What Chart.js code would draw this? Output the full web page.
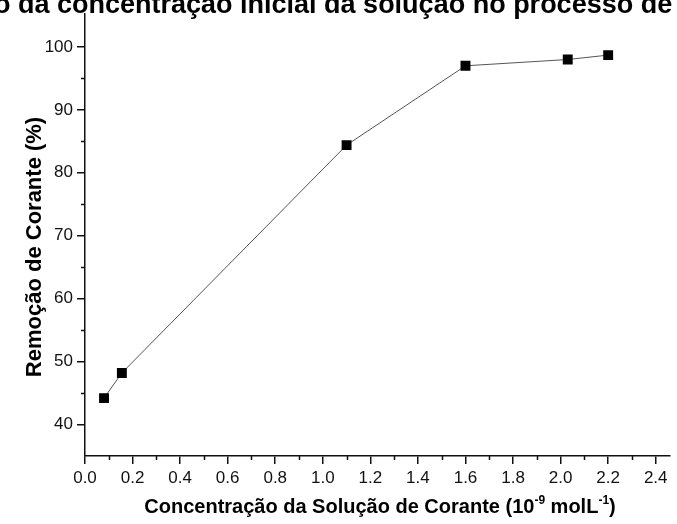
<!DOCTYPE html>
<html>
<head>
<meta charset="utf-8">
<script src="https://cdn.jsdelivr.net/npm/chart.js@4/dist/chart.umd.min.js"></script>
<style>
  html, body { margin: 0; padding: 0; background: #fff; }
  #wrap { width: 677px; height: 524px; position: relative; }
</style>
</head>
<body>
<div id="wrap"><canvas id="chart" width="677" height="524"></canvas></div>
<script>
// Initial dye concentration (10^-9 mol/L) and dye removal (%)
const concentration = [0.08, 0.155, 1.10, 1.60, 2.03, 2.20];
const removal       = [44.2, 48.2, 84.4, 97.0, 98.0, 98.7];

// Axis tick values
const xTicks = [0.0, 0.2, 0.4, 0.6, 0.8, 1.0, 1.2, 1.4, 1.6, 1.8, 2.0, 2.2, 2.4];
const yTicks = [40, 50, 60, 70, 80, 90, 100];
const xMinorTicks = [0.1, 0.3, 0.5, 0.7, 0.9, 1.1, 1.3, 1.5, 1.7, 1.9, 2.1, 2.3];
const yMinorTicks = [45, 55, 65, 75, 85, 95];

const titleText = 'o da concentração inicial da solução no processo de';
const yTitle = 'Remoção de Corante (%)';
const xTitleParts = [
  ['Concentração da Solução de Corante (10', false],
  ['-9', true],
  [' molL', false],
  ['-1', true],
  [')', false]
];

const FONT = '"Liberation Sans", Arial, sans-serif';
const INK = '#111';

const decorations = {
  id: 'decorations',
  afterDraw(chart) {
    const ctx = chart.ctx;
    const xs = chart.scales.x, ys = chart.scales.y;
    ctx.save();
    ctx.strokeStyle = INK;
    ctx.lineWidth = 1.5;
    // minor ticks
    ctx.beginPath();
    xMinorTicks.forEach(v => {
      const px = Math.round(xs.getPixelForValue(v)) + 0.5;
      ctx.moveTo(px, ys.bottom);
      ctx.lineTo(px, ys.bottom + 4);
    });
    yMinorTicks.forEach(v => {
      const py = Math.round(ys.getPixelForValue(v)) + 0.5;
      ctx.moveTo(xs.left, py);
      ctx.lineTo(xs.left - 4, py);
    });
    ctx.stroke();

    ctx.fillStyle = '#000';
    // chart title (runs past the canvas edges)
    ctx.font = 'bold 27px ' + FONT;
    ctx.textAlign = 'left';
    ctx.textBaseline = 'alphabetic';
    ctx.fillText(titleText, -6, 13);

    // y axis title
    ctx.save();
    ctx.translate(41, 247);
    ctx.rotate(-Math.PI / 2);
    ctx.font = 'bold 22px ' + FONT;
    ctx.textAlign = 'center';
    ctx.fillText(yTitle, 0, 0);
    ctx.restore();

    // x axis title with superscripts
    const mainFont = 'bold 20px ' + FONT;
    const supFont = 'bold 12px ' + FONT;
    let total = 0;
    xTitleParts.forEach(([t, sup]) => {
      ctx.font = sup ? supFont : mainFont;
      total += ctx.measureText(t).width;
    });
    let x = 380 - total / 2;
    const base = 513;
    ctx.textAlign = 'left';
    xTitleParts.forEach(([t, sup]) => {
      ctx.font = sup ? supFont : mainFont;
      ctx.fillText(t, x, sup ? base - 9 : base);
      x += ctx.measureText(t).width;
    });
    ctx.restore();
  }
};

new Chart(document.getElementById('chart'), {
  type: 'scatter',
  data: {
    datasets: [{
      data: concentration.map((c, i) => ({ x: c, y: removal[i] })),
      showLine: true,
      borderColor: '#555',
      borderWidth: 1,
      tension: 0,
      pointStyle: 'rect',
      pointRadius: 7,
      pointHoverRadius: 7,
      pointBackgroundColor: '#000',
      pointBorderColor: '#000',
      pointBorderWidth: 0
    }]
  },
  options: {
    responsive: false,
    animation: false,
    devicePixelRatio: 1,
    layout: { padding: { top: 12, right: 0, left: 0, bottom: 0 } },
    plugins: {
      legend: { display: false },
      title: { display: false },
      tooltip: { enabled: false }
    },
    scales: {
      x: {
        type: 'linear',
        min: 0,
        max: 2.46,
        afterBuildTicks: s => { s.ticks = xTicks.map(v => ({ value: v })); },
        afterFit: s => { s.height = 68; },
        grid: { drawOnChartArea: false, drawTicks: true, tickLength: 8, color: INK, lineWidth: 1.5 },
        border: { display: true, color: INK, width: 1.5 },
        ticks: {
          color: '#111',
          font: { family: FONT, size: 17 },
          padding: 4,
          maxRotation: 0,
          autoSkip: false,
          callback: v => v.toFixed(1)
        }
      },
      y: {
        type: 'linear',
        min: 35,
        max: 105.2,
        afterBuildTicks: s => { s.ticks = yTicks.map(v => ({ value: v })); },
        afterFit: s => { s.width = 85; },
        grid: { drawOnChartArea: false, drawTicks: true, tickLength: 8, color: INK, lineWidth: 1.5 },
        border: { display: true, color: INK, width: 1.5 },
        ticks: {
          color: '#111',
          font: { family: FONT, size: 17 },
          padding: 4,
          autoSkip: false,
          callback: v => String(v)
        }
      }
    }
  },
  plugins: [decorations]
});
</script>
</body>
</html>
